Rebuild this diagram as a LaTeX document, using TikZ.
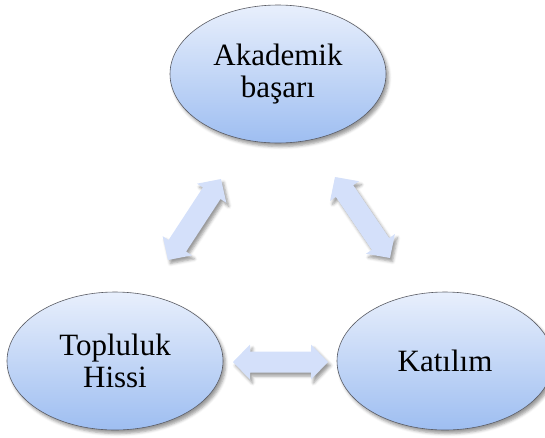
\documentclass[tikz,border=0pt]{standalone}
\usepackage{fontspec}
\setmainfont{Liberation Serif}
\usetikzlibrary{shapes.geometric,shadows.blur}

\definecolor{ovaltop}{RGB}{232,239,252}
\definecolor{ovalbot}{RGB}{158,190,241}
\definecolor{ovalline}{RGB}{90,92,100}
\definecolor{arrowfill}{RGB}{212,224,250}

\tikzset{
  softshadow/.style={blur shadow={shadow xshift=2.5pt, shadow yshift=-3.5pt,
      shadow blur radius=3pt, shadow opacity=40}},
  oval/.style={ellipse, draw=ovalline, line width=0.6pt,
    top color=ovaltop, bottom color=ovalbot,
    minimum width=216pt, minimum height=138pt, inner sep=0pt,
    align=center, font=\fontsize{31}{32.5}\selectfont, softshadow},
  fatarrow/.style={fill=arrowfill, draw=none, softshadow},
}

% Two-headed block arrow running from coordinate #1 to coordinate #2
\newcommand\twoway[2]{%
  \pgfpointdiff{\pgfpointanchor{#1}{center}}{\pgfpointanchor{#2}{center}}%
  \pgfgetlastxy{\arrdx}{\arrdy}%
  \pgfmathsetmacro\arrang{atan2(\arrdy,\arrdx)}%
  \pgfmathsetmacro\arrlen{veclen(\arrdx,\arrdy)}%
  \begin{scope}[shift={(#1)}, rotate=\arrang]
    \path[fatarrow] (0pt,0pt) -- (17pt,17.5pt) -- (17pt,10.5pt)
      -- (\arrlen pt-17pt,10.5pt) -- (\arrlen pt-17pt,17.5pt)
      -- (\arrlen pt,0pt)
      -- (\arrlen pt-17pt,-17.5pt) -- (\arrlen pt-17pt,-10.5pt)
      -- (17pt,-10.5pt) -- (17pt,-17.5pt) -- cycle;
  \end{scope}}

\begin{document}
\begin{tikzpicture}[x=1pt, y=-1pt]
  \useasboundingbox (0,0) rectangle (545,437);
  \clip (0,0) rectangle (545,437);

  % the three concepts
  \node[oval] (acad) at (278,74)  {Akademik\\başarı};
  \node[oval] (comm) at (115,361) {Topluluk\\Hissi};
  \node[oval] (part) at (445,361) {Katılım};

  % arrow ends
  \coordinate (tlA) at (221,179);
  \coordinate (tlB) at (168,260);
  \coordinate (trA) at (335,177);
  \coordinate (trB) at (390,258);
  \coordinate (bmA) at (233,362);
  \coordinate (bmB) at (328,362);

  % two-way links
  \twoway{tlB}{tlA}
  \twoway{trA}{trB}
  \twoway{bmA}{bmB}
\end{tikzpicture}
\end{document}
